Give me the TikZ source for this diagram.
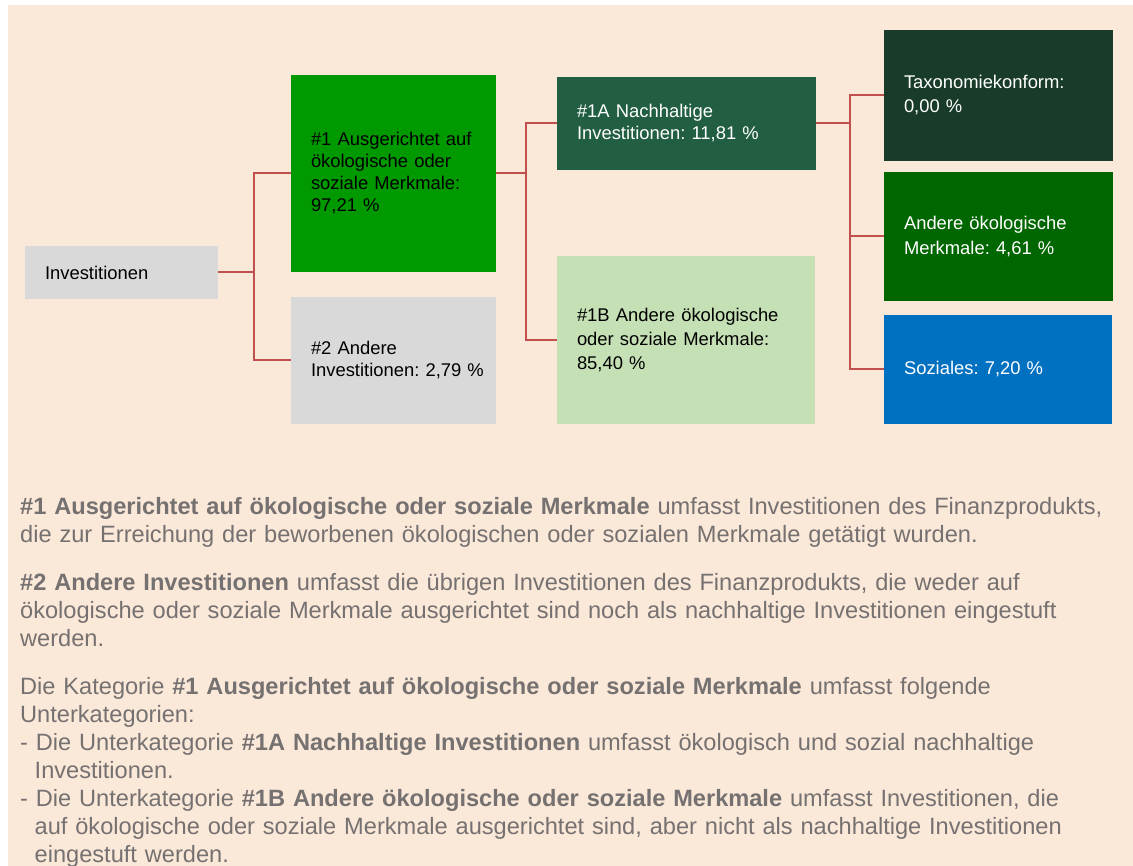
\documentclass[tikz,border=0pt]{standalone}
\usepackage{fontspec}
\setmainfont{Liberation Sans}
\frenchspacing
\definecolor{peach}{RGB}{250,232,216}
\definecolor{boxgrey}{RGB}{217,217,217}
\definecolor{green1}{RGB}{0,153,0}
\definecolor{green1A}{RGB}{33,94,66}
\definecolor{green1B}{RGB}{197,224,180}
\definecolor{greentax}{RGB}{25,60,42}
\definecolor{greenoek}{RGB}{0,102,0}
\definecolor{bluesoz}{RGB}{0,112,192}
\definecolor{connred}{RGB}{192,80,77}
\definecolor{txtgrey}{RGB}{118,113,113}
\tikzset{
  box/.style={rectangle, inner xsep=20pt, inner ysep=0pt, align=left, anchor=center,
    font=\fontsize{18.4}{23}\selectfont},
  conn/.style={draw=connred, line width=2pt},
  notetext/.style={inner sep=0pt, align=left, text width=1110pt, text=txtgrey,
    font=\fontsize{23.6}{28}\selectfont}
}
\begin{document}
\begin{tikzpicture}[x=1pt,y=-1pt]
\useasboundingbox (0,0) rectangle (1133,866);
\fill[peach] (8,5) rectangle (1133,866);

% diagram boxes
\node[box, fill=boxgrey, text width=153pt, minimum height=53pt] (inv) at (121.5,272.5) {Investitionen};
\node[box, fill=green1, text width=165pt, minimum height=197pt, font=\fontsize{18.4}{22}\selectfont] (a1) at (393.5,173.5)
  {\#1 Ausgerichtet auf\\ökologische oder\\soziale Merkmale:\\97,21~\%};
\node[box, fill=boxgrey, text width=165pt, minimum height=127pt, font=\fontsize{18.4}{22}\selectfont] (a2) at (393.5,360.5)
  {\#2 Andere\\Investitionen:~2,79~\%};
\node[box, fill=green1A, text=white, text width=219pt, minimum height=93pt, font=\fontsize{18.4}{22}\selectfont] (a1A) at (686.5,123.5)
  {\#1A Nachhaltige\\Investitionen: 11,81~\%};
\node[box, fill=green1B, text width=218pt, minimum height=168pt, font=\fontsize{18.4}{24}\selectfont] (a1B) at (686,340)
  {\#1B Andere ökologische\\oder soziale Merkmale:\\85,40~\%};
\node[box, fill=greentax, text=white, text width=189pt, minimum height=131pt, font=\fontsize{18.4}{24}\selectfont] (tax) at (998.5,95.5)
  {Taxonomiekonform:\\0,00~\%};
\node[box, fill=greenoek, text=white, text width=189pt, minimum height=129pt, font=\fontsize{18.4}{25}\selectfont] (oek) at (998.5,236.5)
  {Andere ökologische\\Merkmale: 4,61~\%};
\node[box, fill=bluesoz, text=white, text width=188pt, minimum height=109pt] (soz) at (998,369.5)
  {Soziales: 7,20~\%};

% connectors
\draw[conn] (inv.east) -- ++(36,0) coordinate (j1);
\draw[conn] (a1.west) -| (j1) |- (a2.west);
\draw[conn] (a1.east) -- ++(30,0) coordinate (j2);
\draw[conn] (a1A.west) -| (j2) |- (a1B.west);
\draw[conn] (a1A.east) -- ++(34,0) coordinate (j3);
\draw[conn] (tax.west) -| (j3) |- (soz.west);
\draw[conn] (j3 |- oek.west) -- (oek.west);

% explanatory text
\node[notetext, anchor=base west] (note) at (20,514.5) {%
\textbf{\#1 Ausgerichtet auf ökologische oder soziale Merkmale} umfasst Investitionen des Finanzprodukts,\\
die zur Erreichung der beworbenen ökologischen oder sozialen Merkmale getätigt wurden.\\[20pt]
\textbf{\#2 Andere Investitionen} umfasst die übrigen Investitionen des Finanzprodukts, die weder auf\\
ökologische oder soziale Merkmale ausgerichtet sind noch als nachhaltige Investitionen eingestuft\\
werden.\\[20pt]
Die Kategorie \textbf{\#1 Ausgerichtet auf ökologische oder soziale Merkmale} umfasst folgende\\
Unterkategorien:\\
- Die Unterkategorie \textbf{\#1A Nachhaltige Investitionen} umfasst ökologisch und sozial nachhaltige\\
\hspace*{14.5pt}Investitionen.\\
- Die Unterkategorie \textbf{\#1B Andere ökologische oder soziale Merkmale} umfasst Investitionen, die\\
\hspace*{14.5pt}auf ökologische oder soziale Merkmale ausgerichtet sind, aber nicht als nachhaltige Investitionen\\
\hspace*{14.5pt}eingestuft werden.};
\end{tikzpicture}
\end{document}
